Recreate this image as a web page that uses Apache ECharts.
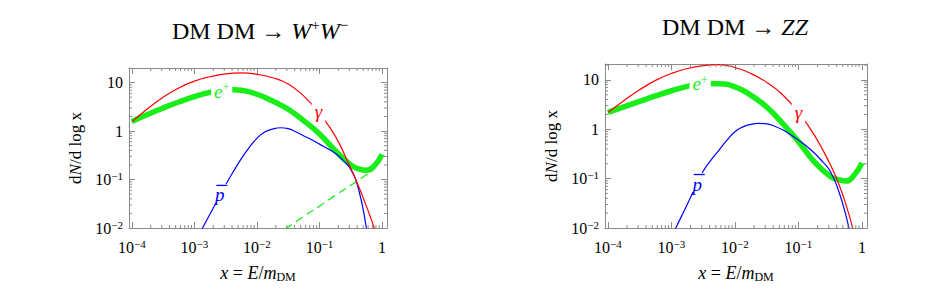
<!DOCTYPE html>
<html>
<head>
<meta charset="utf-8">
<script src="https://cdn.jsdelivr.net/npm/echarts@6/dist/echarts.min.js"></script>
<style>
html,body{margin:0;padding:0;background:#fff;}
#chart{width:926px;height:304px;}
</style>
</head>
<body>
<div id="chart"></div>
<script>
// ---------- data ----------
const xTickLabels = ['10^-4', '10^-3', '10^-2', '10^-1', '1'];
const yTickLabels = ['10^-2', '10^-1', '1', '10'];

// sample positions along x
const xFull = [0.0001, 0.000178, 0.000316, 0.000562, 0.001, 0.00178, 0.00316, 0.00562, 0.01, 0.0178,
  0.0316, 0.0562, 0.1, 0.178, 0.316, 0.422, 0.562, 0.750, 1];
const xPbar = [0.001, 0.001334, 0.001778, 0.002371, 0.003162, 0.004217, 0.005623, 0.007499, 0.01, 0.01334,
  0.01778, 0.02371, 0.03162, 0.04217, 0.05623, 0.07499, 0.1, 0.1334, 0.1778, 0.2371,
  0.3162, 0.4217, 0.5623, 0.7499];

// DM DM -> W+ W-
const wwGammaY = [1.55, 2.88, 5.01, 7.76, 10.7, 13.2, 15.1, 15.8, 14.8, 12.6, 9.33, 5.25, 2.29, 0.794, 0.170, 0.0724, 0.0282, 0.0100, 0.0032];
const wwPosY = [1.58, 2.19, 2.99, 3.98, 5.13, 6.31, 7.24, 6.92, 5.75, 4.17, 2.82, 1.62, 0.871, 0.398, 0.200, 0.166, 0.155, 0.191, 0.331];
const wwPbarY = [0.0049, 0.0098, 0.0195, 0.0389, 0.0776, 0.148, 0.269, 0.457, 0.708, 0.955,
  1.10, 1.17, 1.12, 0.955, 0.794, 0.661, 0.537, 0.437, 0.347, 0.251,
  0.162, 0.0631, 0.0100, 0.0010];
const wwPromptX = [0.0282, 0.0562, 0.1, 0.178, 0.316, 0.562, 0.646];
const wwPromptY = [0.0095, 0.0174, 0.0282, 0.047, 0.076, 0.126, 0.141];

// DM DM -> Z Z
const zzGammaY = [2.19, 3.80, 6.31, 9.77, 13.5, 17.0, 19.5, 20.4, 17.8, 13.5, 8.91, 5.01, 2.19, 0.759, 0.195, 0.0832, 0.0295, 0.0079, 0.0016];
const zzPosY = [2.19, 2.85, 3.67, 4.73, 6.03, 7.41, 8.41, 8.32, 7.24, 4.90, 2.82, 1.32, 0.562, 0.219, 0.112, 0.0955, 0.0891, 0.117, 0.209];
const zzPbarY = [0.0066, 0.0141, 0.0302, 0.0661, 0.141, 0.240, 0.380, 0.603, 0.891, 1.12,
  1.26, 1.32, 1.29, 1.15, 0.977, 0.776, 0.603, 0.457, 0.331, 0.224,
  0.141, 0.0603, 0.0174, 0.0032];

// curve labels: the index of the curve point each one sits on
const labelIdx = {wwPos: 6, wwGamma: 12, wwPbar: 3, zzPos: 6, zzGamma: 12, zzPbar: 3};

// axis ranges
const X_MIN = 0.00009, X_MAX = 1.2;
const WW_Y_MIN = 0.01, WW_Y_MAX = 20;
const ZZ_Y_MIN = 0.01, ZZ_Y_MAX = 21;

// ---------- styling ----------
const SERIF = '"Liberation Serif", "Times New Roman", "DejaVu Serif", serif';
const FRAME = '#8a8a8a';
const RED = '#ff0000', BLUE = '#0000ff', GREEN = '#19ee19';

const tickRich = {
  b: {fontFamily: SERIF, fontSize: 16, color: '#000', lineHeight: 18},
  s: {fontFamily: SERIF, fontSize: 11, color: '#000', verticalAlign: 'top', lineHeight: 9}
};
const labelMap = {};
xTickLabels.concat(yTickLabels).forEach(function (t) {
  const parts = t.split('^');
  const v = parts.length === 2 ? Math.pow(10, Number(parts[1])) : Number(t);
  const key = Math.round(Math.log10(v));
  labelMap[key] = parts.length === 2
    ? '{b|' + parts[0] + '}{s|\u2212' + parts[1].replace('-', '') + '}'
    : '{b|' + t + '}';
});
function tickFormatter(v) {
  const l = Math.log10(v);
  const r = Math.round(l);
  if (Math.abs(l - r) > 1e-6) return '';
  return labelMap[r] || '';
}

function zip(xs, ys, idx, labelCfg) {
  return xs.map(function (x, i) {
    if (i === idx) return {value: [x, ys[i]], label: labelCfg};
    return [x, ys[i]];
  });
}

function curveLabel(fmt, rich, offset) {
  return {
    show: true, position: 'inside', formatter: fmt, rich: rich, offset: offset,
    backgroundColor: '#fff', padding: [0, 3]
  };
}
const posRich = {
  i: {fontFamily: SERIF, fontStyle: 'italic', fontSize: 19, color: GREEN, lineHeight: 20},
  s: {fontFamily: SERIF, fontSize: 12, color: GREEN, verticalAlign: 'top', lineHeight: 8}
};
const gammaRich = {
  g: {fontFamily: SERIF, fontStyle: 'italic', fontSize: 19, color: RED, lineHeight: 20}
};
const pbarRich = {
  o: {width: 11, height: 1.3, backgroundColor: BLUE, fontSize: 1, lineHeight: 3, align: 'center'},
  p: {fontFamily: SERIF, fontStyle: 'italic', fontSize: 19, color: BLUE, lineHeight: 16, align: 'center',
    padding: [0, 4, 0, 0]}
};
const posFmt = '{i|e}{s|+}';
const gammaFmt = '{g|\u03b3}';
const pbarFmt = '{o| }\n{p|p}';

function lineSeries(name, xi, yi, data, color, width, z, dashed) {
  return {
    name: name, type: 'line', xAxisIndex: xi, yAxisIndex: yi,
    data: data, smooth: 0.5,
    symbol: 'circle', symbolSize: 0, showSymbol: true, showAllSymbol: true,
    lineStyle: {color: color, width: width, type: dashed ? [8, 5] : 'solid', cap: 'butt', join: 'round'},
    itemStyle: {color: color},
    label: {show: false},
    z: z, clip: true, silent: true
  };
}

function minorTicks(xi, yi, yMin, yMax) {
  return {
    type: 'custom', xAxisIndex: xi, yAxisIndex: yi, silent: true, clip: false, z: 5,
    data: [[X_MIN, yMin]],
    renderItem: function (params, api) {
      const ch = [];
      const st = {stroke: FRAME, lineWidth: 1};
      const seg = function (x1, y1, x2, y2) {
        ch.push({type: 'line', shape: {x1: x1, y1: y1, x2: x2, y2: y2}, style: st});
      };
      for (let n = -6; n <= 2; n++) {
        for (let k = 2; k <= 9; k++) {
          const v = k * Math.pow(10, n);
          if (v > X_MIN && v < X_MAX) {
            const b = api.coord([v, yMin]), t = api.coord([v, yMax]);
            seg(b[0], b[1], b[0], b[1] - 3);
            seg(t[0], t[1], t[0], t[1] + 3);
          }
          if (v > yMin && v < yMax) {
            const l = api.coord([X_MIN, v]), r = api.coord([X_MAX, v]);
            seg(l[0], l[1], l[0] + 3, l[1]);
            seg(r[0], r[1], r[0] - 3, r[1]);
          }
        }
      }
      return {type: 'group', children: ch};
    }
  };
}

function xAxisPair(grid) {
  const common = {
    type: 'log', logBase: 10, gridIndex: grid, min: X_MIN, max: X_MAX,
    axisLine: {show: true, lineStyle: {color: FRAME, width: 1}},
    axisTick: {show: true, inside: true, length: 6, lineStyle: {color: FRAME}},
    splitLine: {show: false}, minorTick: {show: false}, minorSplitLine: {show: false}
  };
  return [
    Object.assign({}, common, {
      position: 'bottom',
      axisLabel: {show: true, formatter: tickFormatter, rich: tickRich, margin: 10, hideOverlap: false,
        showMinLabel: true, showMaxLabel: true},
      name: '{i|x} = {i|E}/{i|m}{sub|DM}', nameLocation: 'middle', nameGap: 35,
      nameTextStyle: {fontFamily: SERIF, fontSize: 18, color: '#000',
        rich: {
          i: {fontFamily: SERIF, fontStyle: 'italic', fontSize: 18, color: '#000', lineHeight: 20},
          sub: {fontFamily: SERIF, fontSize: 12, color: '#000', verticalAlign: 'bottom', lineHeight: 14}
        }}
    }),
    Object.assign({}, common, {position: 'top', axisLabel: {show: false}})
  ];
}
function yAxisPair(grid, yMin, yMax) {
  const common = {
    type: 'log', logBase: 10, gridIndex: grid, min: yMin, max: yMax,
    axisLine: {show: true, lineStyle: {color: FRAME, width: 1}},
    axisTick: {show: true, inside: true, length: 6, lineStyle: {color: FRAME}},
    splitLine: {show: false}, minorTick: {show: false}, minorSplitLine: {show: false}
  };
  return [
    Object.assign({}, common, {
      position: 'left',
      axisLabel: {show: true, formatter: tickFormatter, rich: tickRich, margin: 6, hideOverlap: false,
        showMinLabel: true, showMaxLabel: true},
      name: 'd{i|N}/d log x', nameLocation: 'middle', nameRotate: 90, nameGap: 45,
      nameTextStyle: {fontFamily: SERIF, fontSize: 17, color: '#000',
        rich: {i: {fontFamily: SERIF, fontStyle: 'italic', fontSize: 17, color: '#000'}}}
    }),
    Object.assign({}, common, {position: 'right', axisLabel: {show: false}})
  ];
}

const titleRich = {
  r: {fontFamily: SERIF, fontSize: 24, color: '#000', lineHeight: 28},
  i: {fontFamily: SERIF, fontStyle: 'italic', fontSize: 24, color: '#000', lineHeight: 28},
  s: {fontFamily: SERIF, fontSize: 15, color: '#000', verticalAlign: 'top', lineHeight: 16}
};

const option = {
  animation: false,
  backgroundColor: '#fff',
  grid: [
    {left: 129, top: 68, width: 258, height: 160, containLabel: false},
    {left: 605, top: 64, width: 262, height: 164, containLabel: false}
  ],
  xAxis: xAxisPair(0).concat(xAxisPair(1)),
  yAxis: yAxisPair(0, WW_Y_MIN, WW_Y_MAX).concat(yAxisPair(1, ZZ_Y_MIN, ZZ_Y_MAX)),
  graphic: [
    {type: 'text', x: 260, y: 31, z: 10,
      style: {text: '{r|DM DM \u2192 }{i|W}{s|+}{i|W}{s|\u2212}', rich: titleRich, align: 'center', verticalAlign: 'middle'}},
    {type: 'text', x: 735, y: 27, z: 10,
      style: {text: '{r|DM DM \u2192 }{i|ZZ}', rich: titleRich, align: 'center', verticalAlign: 'middle'}}
  ],
  series: [
    lineSeries('WW e+', 0, 0, zip(xFull, wwPosY, labelIdx.wwPos, curveLabel(posFmt, posRich, [-4, 2])), GREEN, 5.5, 2),
    lineSeries('WW prompt e+', 0, 0, zip(wwPromptX, wwPromptY), GREEN, 1.3, 2, true),
    lineSeries('WW pbar', 0, 0, zip(xPbar, wwPbarY, labelIdx.wwPbar, curveLabel(pbarFmt, pbarRich, [4, -6])), BLUE, 1.2, 3),
    lineSeries('WW gamma', 0, 0, zip(xFull, wwGammaY, labelIdx.wwGamma, curveLabel(gammaFmt, gammaRich, [-1, -2])), RED, 1.2, 3),
    minorTicks(0, 0, WW_Y_MIN, WW_Y_MAX),
    lineSeries('ZZ e+', 2, 2, zip(xFull, zzPosY, labelIdx.zzPos, curveLabel(posFmt, posRich, [-3, 0])), GREEN, 5.5, 2),
    lineSeries('ZZ pbar', 2, 2, zip(xPbar, zzPbarY, labelIdx.zzPbar, curveLabel(pbarFmt, pbarRich, [4, -5])), BLUE, 1.2, 3),
    lineSeries('ZZ gamma', 2, 2, zip(xFull, zzGammaY, labelIdx.zzGamma, curveLabel(gammaFmt, gammaRich, [0, 0])), RED, 1.2, 3),
    minorTicks(2, 2, ZZ_Y_MIN, ZZ_Y_MAX)
  ]
};

const chart = echarts.init(document.getElementById('chart'), null, {renderer: 'svg', width: 926, height: 304});
chart.setOption(option);
</script>
</body>
</html>
